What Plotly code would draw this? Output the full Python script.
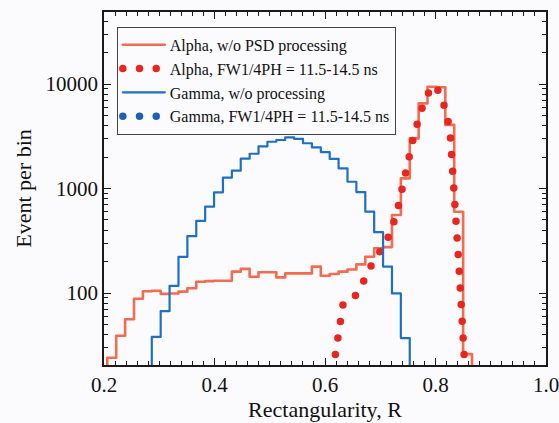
"""
Rectangularity 分布：Alpha / Gamma，PSD 处理前后对比（对数纵轴）
"""
import numpy as np
import plotly.graph_objects as go

# -------------------------------------------------
# 1. 数据（每 bin 事件数，从原图读出）
# -------------------------------------------------
BIN_START = 0.206          # 第 0 个 bin 的左边界
BIN_WIDTH = 0.0161

# Alpha, w/o PSD processing：bin 0 ~ 40
alpha_raw_first = 0
alpha_raw = [24, 39, 56, 88, 104, 105, 98, 99, 103, 111,
             128, 130, 131, 131, 160, 170, 143, 158, 158, 141,
             154, 154, 154, 179, 146, 152, 160, 168, 188, 222,
             268, 275, 557, 1250, 3020, 6530, 9400, 9300, 4060, 600,
             26]

# Alpha, FW1/4PH = 11.5-14.5 ns：bin 22 ~ 40
alpha_psd_first = 22
alpha_psd = [1, 2, 6, 25, 78, 84, 114, 173, 245, 328,
             560, 1320, 3330, 6300, 9800, 8200, 3800, 200, 7]

# Gamma, w/o processing：bin 5 ~ 33
gamma_raw_first = 5
gamma_raw = [38, 67, 117, 222, 350, 489, 670, 920, 1270, 1480,
             1930, 2150, 2530, 2800, 2910, 3090, 2980, 2710, 2470, 2230,
             1920, 1560, 1160, 925, 600, 382, 179, 99, 37]

# Gamma, FW1/4PH = 11.5-14.5 ns：几乎全部被剔除（低于纵轴下限）
gamma_psd_first = 14
gamma_psd = [1, 2, 3, 4, 3, 5, 4, 6, 5, 4, 3, 2]

FLOOR = 1                   # 直方图两端落到坐标轴以下

# -------------------------------------------------
# 2. 样式
# -------------------------------------------------
FONT = "Liberation Serif"
RED_LINE = "#f36c4f"
RED_DOT = "#e8261f"
BLUE_LINE = "#1f6fc5"
BLUE_DOT = "#1d5fb8"
AXIS = "#1a1a1a"
BG = "#fbfbfe"


def step_xy(first, vals):
    """hv 阶梯：左边界 + 两端各补一个 FLOOR 点"""
    n = len(vals)
    k = np.arange(first - 1, first + n + 1)
    x = BIN_START + k * BIN_WIDTH
    y = [FLOOR] + list(vals) + [FLOOR]
    return x, y


def center_xy(first, vals):
    k = np.arange(first, first + len(vals))
    return BIN_START + (k + 0.5) * BIN_WIDTH, vals


fig = go.Figure()

x, y = step_xy(alpha_raw_first, alpha_raw)
fig.add_trace(go.Scatter(x=x, y=y, mode="lines", line_shape="hv",
                         line=dict(color=RED_LINE, width=2.6),
                         name="Alpha, w/o PSD processing"))

x, y = center_xy(alpha_psd_first, alpha_psd)
fig.add_trace(go.Scatter(x=x, y=y, mode="lines",
                         line=dict(color=RED_DOT, width=7.5, dash="0px,16.7px"),
                         name="Alpha, FW1/4PH = 11.5-14.5 ns"))

x, y = step_xy(gamma_raw_first, gamma_raw)
fig.add_trace(go.Scatter(x=x, y=y, mode="lines", line_shape="hv",
                         line=dict(color=BLUE_LINE, width=2.2),
                         name="Gamma, w/o processing"))

x, y = center_xy(gamma_psd_first, gamma_psd)
fig.add_trace(go.Scatter(x=x, y=y, mode="lines",
                         line=dict(color=BLUE_DOT, width=7.5, dash="0px,16.7px"),
                         name="Gamma, FW1/4PH = 11.5-14.5 ns"))

axis_common = dict(
    showline=True, linecolor=AXIS, linewidth=1.6, mirror="ticks",
    ticks="inside", ticklen=7, tickwidth=1.4, tickcolor=AXIS,
    showgrid=False, zeroline=False, automargin=False,
    ticklabeloverflow="allow",
    tickfont=dict(family=FONT, size=21, color="#111"),
)

fig.update_layout(
    width=559, height=423,
    margin=dict(l=104, r=13, t=12, b=58),
    paper_bgcolor=BG, plot_bgcolor=BG,
    font=dict(family=FONT, color="#111"),
    xaxis=dict(
        range=[0.2, 1.0], dtick=0.2, tickformat=".1f",
        minor=dict(ticks="inside", ticklen=4, tickwidth=1.2, tickcolor=AXIS, dtick=0.02),
        title=dict(text="Rectangularity, R", font=dict(family=FONT, size=22), standoff=4),
        **axis_common,
    ),
    yaxis=dict(
        type="log", range=[1.311, 4.689], dtick=1, tickformat="d",
        minor=dict(ticks="inside", ticklen=4, tickwidth=1.2, tickcolor=AXIS, dtick="D1"),
        title=dict(text="Event per bin", font=dict(family=FONT, size=22), standoff=8),
        **axis_common,
    ),
    legend=dict(
        x=0.029, y=0.958, xanchor="left", yanchor="top",
        bgcolor="rgba(0,0,0,0)", bordercolor="#444", borderwidth=1,
        font=dict(family=FONT, size=16, color="#111"),
        itemwidth=42, tracegroupgap=0,
    ),
)

# 去掉 body 默认边距；让 dash="0px,..." 画成圆点
post_js = """
var s = document.createElement('style');
s.textContent = 'body{margin:0;background:%s;} path.js-line{stroke-linecap:round;stroke-linejoin:round;}';
document.head.appendChild(s);
""" % BG

fig.write_html("out.html", post_script=post_js, config=dict(displayModeBar=False))
